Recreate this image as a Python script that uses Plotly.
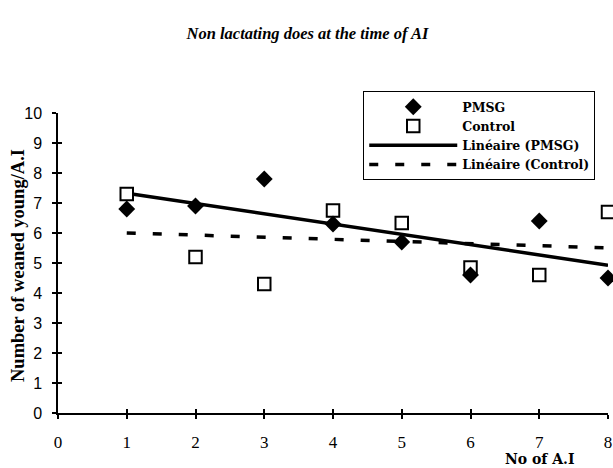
import numpy as np
import plotly.graph_objects as go

ai_number = [1, 2, 3, 4, 5, 6, 7, 8]
pmsg = [6.8, 6.9, 7.8, 6.3, 5.7, 4.6, 6.4, 4.5]
control = [7.3, 5.2, 4.3, 6.75, 6.33, 4.85, 4.6, 6.7]
x_ticks = [0, 1, 2, 3, 4, 5, 6, 7, 8]
y_ticks = [0, 1, 2, 3, 4, 5, 6, 7, 8, 9, 10]

serif = "Liberation Serif"
wide_serif = "DejaVu Serif"
sans = "Liberation Sans"

xa = np.array(ai_number, dtype=float)
fit_p = np.polyfit(xa, pmsg, 1)
fit_c = np.polyfit(xa, control, 1)
xl = [xa.min(), xa.max()]

fig = go.Figure()
fig.add_trace(go.Scatter(x=xl, y=list(np.polyval(fit_p, xl)), mode="lines",
                         name="<b>Linéaire (PMSG)</b>", legendrank=3,
                         line=dict(color="black", width=3.5)))
fig.add_trace(go.Scatter(x=xl, y=list(np.polyval(fit_c, xl)), mode="lines",
                         name="<b>Linéaire (Control)</b>", legendrank=4,
                         line=dict(color="black", width=3.5, dash="9px,17px")))
fig.add_trace(go.Scatter(x=ai_number, y=control, mode="markers", name="<b>Control</b>",
                         legendrank=2, cliponaxis=False,
                         marker=dict(symbol="square", size=12.5, color="white",
                                     line=dict(color="black", width=2))))
fig.add_trace(go.Scatter(x=ai_number, y=pmsg, mode="markers", name="<b>PMSG</b>",
                         legendrank=1, cliponaxis=False,
                         marker=dict(symbol="diamond", size=13, color="black",
                                     line=dict(color="black", width=0))))

fig.update_layout(
    width=613, height=468,
    margin=dict(l=58, r=5, t=113, b=55, autoexpand=False),
    paper_bgcolor="white", plot_bgcolor="white",
    title=dict(text="<b><i>Non lactating does at the time of AI</i></b>",
               x=307.5 / 613, xanchor="center", y=1 - 33 / 468, yanchor="middle",
               font=dict(family=serif, size=16.5, color="black")),
    showlegend=True,
    legend=dict(x=0.555, y=1.073, xanchor="left", yanchor="top",
                bgcolor="white", bordercolor="black", borderwidth=1,
                font=dict(family=wide_serif, size=12.5, color="black"),
                itemwidth=88, tracegroupgap=0,
                traceorder="normal"),
    xaxis=dict(range=[0, 8], tickvals=x_ticks, ticktext=[str(v) for v in x_ticks],
               showgrid=False, zeroline=False, showline=True, linecolor="black",
               linewidth=1.5, ticks="outside", ticklen=4, tickwidth=1.5,
               tickcolor="black", ticklabelstandoff=9, automargin=False,
               tickfont=dict(family=serif, size=17, color="black")),
    yaxis=dict(range=[0, 10], tickvals=y_ticks, ticktext=[str(v) for v in y_ticks],
               showgrid=False, zeroline=False, showline=True, linecolor="black",
               linewidth=1.5, ticks="outside", ticklen=4, tickwidth=1.5,
               tickcolor="black", ticklabelstandoff=7, automargin=False,
               tickfont=dict(family=sans, size=16, color="black")),
    xaxis2=dict(range=[0, 8], overlaying="x", tickvals=x_ticks, showticklabels=False,
                showgrid=False, zeroline=False, ticks="inside", ticklen=4,
                tickwidth=1.5, tickcolor="black", side="bottom", automargin=False),
    yaxis2=dict(range=[0, 10], overlaying="y", tickvals=y_ticks, showticklabels=False,
                showgrid=False, zeroline=False, ticks="inside", ticklen=4,
                tickwidth=1.5, tickcolor="black", side="left", automargin=False),
    annotations=[
        dict(text="<b>Number of weaned young/A.I</b>", textangle=-90,
             xref="paper", yref="paper", x=-0.0727, y=0.49,
             xanchor="center", yanchor="middle",
             showarrow=False, font=dict(family=serif, size=18.5, color="black")),
        dict(text="<b>No of A.I</b>", xref="paper", yref="paper",
             x=0.876, y=-0.153, xanchor="center", yanchor="middle", showarrow=False,
             font=dict(family=wide_serif, size=14, color="black")),
    ],
)
# invisible trace to activate the secondary (inside-tick) axes
fig.add_trace(go.Scatter(x=[0], y=[0], xaxis="x2", yaxis="y2", mode="markers",
                         marker=dict(opacity=0), showlegend=False, hoverinfo="skip"))

fig.write_html(
    "out.html",
    config={"displayModeBar": False},
    post_script="document.body.style.margin='0';"
                "document.documentElement.style.overflow='hidden';",
)
